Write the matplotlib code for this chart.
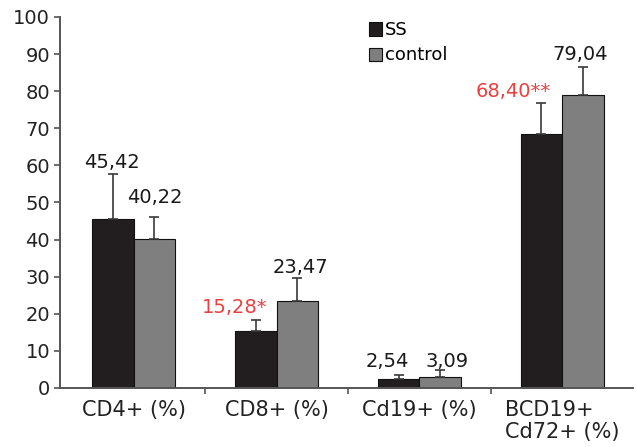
import numpy as np
import matplotlib.pyplot as plt

plt.rcParams['font.family'] = ['DejaVu Sans']

categories = ['CD4+ (%)', 'CD8+ (%)', 'Cd19+ (%)', 'BCD19+\nCd72+ (%)']
ss_vals = [45.42, 15.28, 2.54, 68.40]
ss_err = [12.2, 3.0, 1.0, 8.4]
ctrl_vals = [40.22, 23.47, 3.09, 79.04]
ctrl_err = [5.9, 6.2, 1.8, 7.5]
ss_labels = ['45,42', '15,28*', '2,54', '68,40**']
ctrl_labels = ['40,22', '23,47', '3,09', '79,04']
ss_marked = [False, True, False, True]

# label nudges in pixels (dx, dy above the error cap)
ss_off = [(-1, 6), (-21, 7), (-11, 8), (-28, 6)]
ctrl_off = [(0, 14), (3, 5), (7, 3), (-3, 7)]

fig = plt.figure(figsize=(6.37, 4.47), dpi=100)
ax = fig.add_axes([0.094, 0.132, 0.9, 0.83])

x = np.arange(len(categories))
w = 0.29
ecol = '#3a3a3a'
ax.bar(x - w / 2, ss_vals, w, color='#221e1f', edgecolor='#111111', linewidth=0.8,
       label='SS', zorder=2)
ax.bar(x + w / 2, ctrl_vals, w, color='#7f7f7f', edgecolor='#111111', linewidth=0.8,
       label='control', zorder=2)
ax.errorbar(x - w / 2, ss_vals, yerr=[np.zeros(4), ss_err], fmt='none', ecolor=ecol,
            elinewidth=1.2, capsize=3.5, capthick=1.2, zorder=3)
ax.errorbar(x + w / 2, ctrl_vals, yerr=[np.zeros(4), ctrl_err], fmt='none', ecolor=ecol,
            elinewidth=1.2, capsize=3.5, capthick=1.2, zorder=3)

for i in range(len(categories)):
    col = '#e8413f' if ss_marked[i] else '#1a1a1a'
    ax.annotate(ss_labels[i], (x[i] - w / 2, ss_vals[i] + ss_err[i]), xytext=ss_off[i],
                textcoords='offset pixels', ha='center', va='baseline', fontsize=14, color=col)
    ax.annotate(ctrl_labels[i], (x[i] + w / 2, ctrl_vals[i] + ctrl_err[i]), xytext=ctrl_off[i],
                textcoords='offset pixels', ha='center', va='baseline', fontsize=14,
                color='#1a1a1a')

ax.set_xlim(-0.517, 3.497)
ax.set_ylim(0, 100)
ax.set_yticks(range(0, 101, 10))
ax.set_xticks(x)
ax.set_xticklabels(categories, multialignment='left', linespacing=1.1)
ax.set_xticks([0.5, 1.5, 2.5], minor=True)
ax.tick_params(axis='x', which='major', length=0, pad=9, labelsize=15, labelcolor='#222222')
ax.tick_params(axis='x', which='minor', length=4, width=1.2, color='#555555', direction='out')
ax.tick_params(axis='y', length=4, width=1.2, color='#555555', labelsize=14,
               labelcolor='#222222', pad=3)

for s in ['top', 'right']:
    ax.spines[s].set_visible(False)
for s in ['left', 'bottom']:
    ax.spines[s].set_color('#555555')
    ax.spines[s].set_linewidth(1.4)

ax.legend(loc='upper left', bbox_to_anchor=(0.527, 1.008), frameon=False, fontsize=13,
          handlelength=0.7, handleheight=0.75, handletextpad=0.15, labelspacing=0.4,
          borderaxespad=0)

fig.savefig('out.png', dpi=100)
